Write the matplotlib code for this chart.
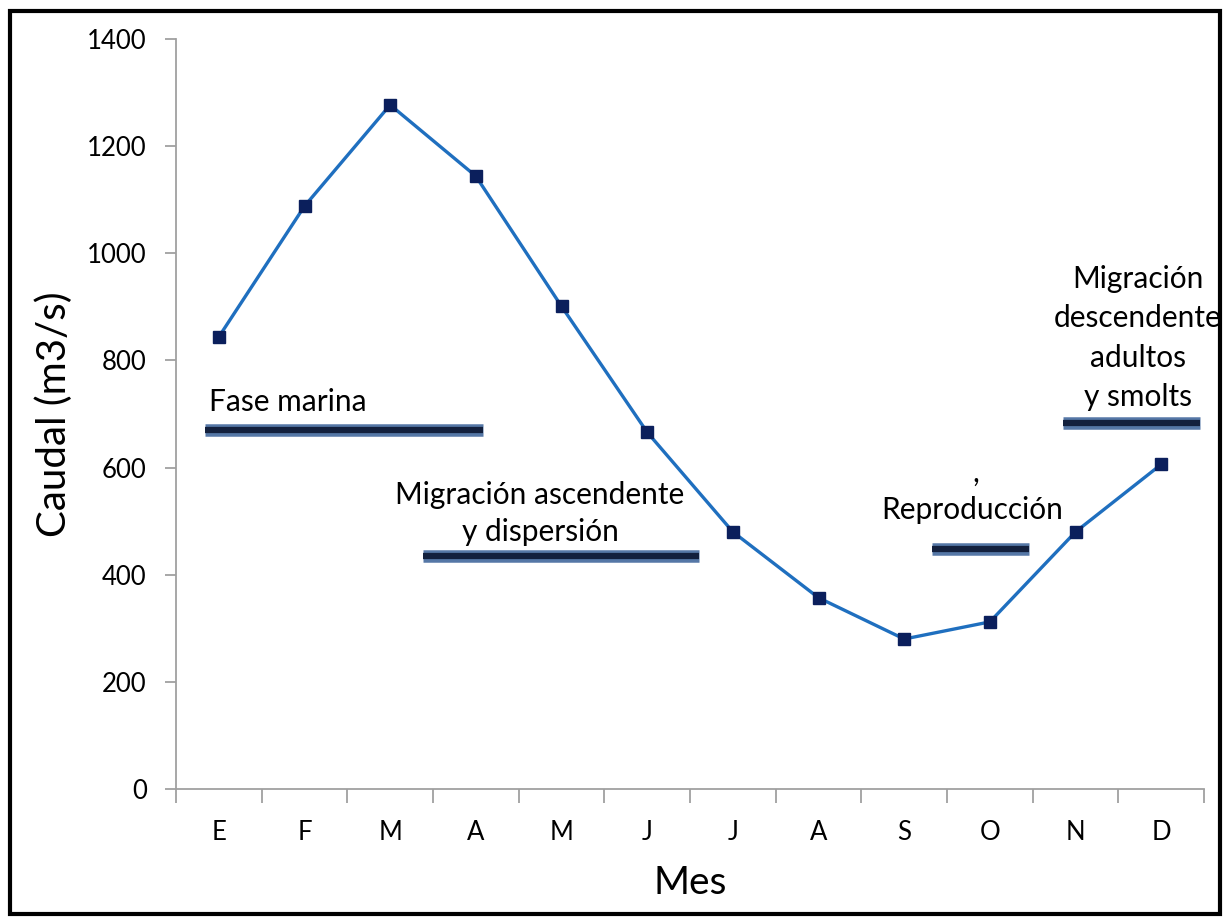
import matplotlib.pyplot as plt
import matplotlib.patheffects as pe
from matplotlib.patches import Rectangle

plt.rcParams["font.family"] = ["Lato", "DejaVu Sans"]

meses = ["E", "F", "M", "A", "M", "J", "J", "A", "S", "O", "N", "D"]
caudal = [844, 1088, 1277, 1144, 901, 666, 480, 357, 280, 312, 480, 606]

# fases: (inicio, fin, nivel) en indices de mes
fase_marina = (-0.16, 3.08, 670)
fase_ascendente = (2.38, 5.61, 435)
fase_reproduccion = (8.32, 9.46, 448)
fase_descendente = (9.85, 11.45, 683)

fig = plt.figure(figsize=(12.29, 9.18), dpi=100, facecolor="w")
ax = fig.add_axes([0.1432, 0.1405, 0.8365, 0.817])

x = list(range(len(meses)))
ax.plot(x, caudal, color="#1f6fbf", lw=2.4, marker="s", ms=8.5,
        markerfacecolor="#0b1f5c", markeredgecolor="#0b1f5c", zorder=3)

bar_fx = [pe.Stroke(linewidth=9, foreground="#5577a6"), pe.Normal()]
for x0, x1, y in [fase_marina, fase_ascendente, fase_reproduccion, fase_descendente]:
    ax.plot([x0, x1], [y, y], color="#13203d", lw=4.5, solid_capstyle="butt",
            path_effects=bar_fx, zorder=2, clip_on=False)

fs = 21.5
ax.text(-0.11, 722, "Fase marina", fontsize=fs, ha="left", va="center")
ax.text(3.75, 515, "Migración ascendente\ny dispersión", fontsize=fs,
        ha="center", va="center", linespacing=1.4)
ax.text(8.84, 590, ",", fontsize=fs, ha="center", va="center")
ax.text(8.79, 521, "Reproducción", fontsize=fs, ha="center", va="center")
ax.text(10.73, 842, "Migración\ndescendente\nadultos\ny smolts", fontsize=fs,
        ha="center", va="center", linespacing=1.5)

ax.set_xlim(-0.5, 11.5)
ax.set_ylim(0, 1400)
ax.set_yticks(range(0, 1401, 200))
ax.set_xticks(x)
ax.set_xticklabels(meses)
ax.set_xticks([i - 0.5 for i in range(13)], minor=True)
ax.tick_params(axis="x", which="major", length=0, pad=22, labelsize=18.5)
ax.tick_params(axis="x", which="minor", length=10, color="#a0a0a0", width=1.3)
ax.tick_params(axis="y", length=8, color="#a0a0a0", width=1.3, labelsize=18.5, pad=13)

for s in ["top", "right"]:
    ax.spines[s].set_visible(False)
for s in ["left", "bottom"]:
    ax.spines[s].set_color("#a0a0a0")
    ax.spines[s].set_linewidth(1.3)

ax.set_ylabel("Caudal (m3/s)", fontsize=29, labelpad=10)
ax.set_xlabel("Mes", fontsize=28, labelpad=15)

fig.patches.append(Rectangle((0.008, 0.004), 0.985, 0.984, transform=fig.transFigure,
                             fill=False, edgecolor="black", lw=3))

fig.savefig("out.png", dpi=100)
